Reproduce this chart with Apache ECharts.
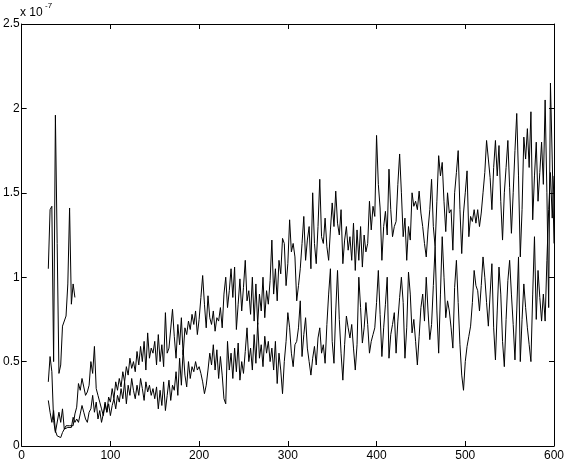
<!DOCTYPE html>
<html>
<head>
<meta charset="utf-8">
<script src="https://cdn.jsdelivr.net/npm/echarts@6/dist/echarts.min.js"></script>
<style>
  html, body { margin: 0; padding: 0; background: #fff; }
</style>
</head>
<body>
<div id="main" style="width: 569px; height: 463px"></div>
<script>
// values are in units of 1e-7 (see "x 10^-7" above the axis)
const xTicks = [0, 100, 200, 300, 400, 500, 600];
const yTicks = [0, 0.5, 1, 1.5, 2, 2.5];

// short curve: x = 30, 32, ... 60
const shortStart = 30;
const shortStep = 2;
const shortValues = [1.05, 1.40, 1.42, 0.50, 1.96, 1.20, 0.43, 0.48, 0.71, 0.71, 0.77, 0.96, 1.41, 0.84, 0.96, 0.88];

// two long curves: x = 30, 32, ... 600
const longStart = 30;
const longStep = 2;
const upperValues = [
  0.38, 0.53, 0.44, 0.15, 0.08, 0.09, 0.20, 0.14, 0.22, 0.10, 0.12, 0.11, 0.12, 0.13, 0.12, 0.19, 0.23, 0.37, 0.33, 0.40,
  0.39, 0.30, 0.32, 0.36, 0.50, 0.43, 0.59, 0.34, 0.30, 0.26, 0.22, 0.18, 0.25, 0.20, 0.29, 0.26, 0.34, 0.28, 0.38, 0.33,
  0.40, 0.35, 0.44, 0.38, 0.47, 0.42, 0.52, 0.46, 0.50, 0.44, 0.56, 0.48, 0.59, 0.50, 0.62, 0.45, 0.67, 0.52, 0.58, 0.55,
  0.62, 0.48, 0.66, 0.50, 0.60, 0.47, 0.79, 0.55, 0.58, 0.57, 0.81, 0.65, 0.52, 0.72, 0.60, 0.76, 0.54, 0.70, 0.66, 0.74,
  0.69, 0.78, 0.72, 0.80, 0.66, 0.75, 0.88, 1.01, 0.84, 0.70, 0.89, 0.76, 0.72, 0.80, 0.68, 0.76, 0.74, 0.82, 0.70, 0.90,
  1.00, 0.82, 0.92, 1.05, 0.88, 1.06, 0.69, 0.84, 0.99, 0.80, 0.94, 1.10, 0.86, 0.92, 0.78, 1.00, 0.74, 0.96, 0.72, 0.90,
  0.80, 1.00, 0.76, 0.92, 0.84, 0.98, 1.22, 0.90, 1.05, 0.86, 1.10, 1.02, 1.23, 1.20, 0.95, 1.08, 1.34, 1.15, 1.20, 1.12,
  0.86, 0.95, 1.05, 1.20, 1.36, 1.10, 1.22, 1.30, 1.05, 1.50, 1.20, 1.08, 1.30, 1.58, 1.24, 1.20, 1.35, 1.18, 1.10, 1.28,
  1.44, 1.30, 1.51, 1.32, 1.25, 1.40, 1.08, 1.22, 1.30, 1.16, 1.24, 1.10, 1.32, 1.04, 1.28, 1.10, 1.30, 1.06, 1.25, 1.15,
  1.20, 1.45, 1.28, 1.42, 1.36, 1.84, 1.55, 1.41, 1.10, 1.30, 1.39, 1.25, 1.64, 1.40, 1.24, 1.30, 1.33, 1.55, 1.73, 1.50,
  1.24, 1.35, 1.10, 1.30, 1.22, 1.50, 1.42, 1.45, 1.40, 1.51, 1.38, 1.30, 1.20, 1.12, 1.28, 1.40, 1.58, 1.30, 1.18, 1.45,
  1.72, 1.60, 1.68, 1.45, 1.27, 1.50, 1.38, 1.40, 1.16, 1.50, 1.62, 1.75, 1.40, 1.14, 1.38, 1.50, 1.63, 1.24, 1.36, 1.33,
  1.40, 1.32, 1.40, 1.30, 1.38, 1.50, 1.62, 1.81, 1.70, 1.59, 1.40, 1.65, 1.81, 1.60, 1.78, 1.45, 1.22, 1.50, 1.65, 1.81,
  1.53, 1.26, 1.50, 1.75, 1.97, 1.60, 1.12, 1.40, 1.83, 1.70, 1.88, 1.65, 1.98, 1.34, 1.60, 1.80, 1.45, 1.62, 1.80, 1.55,
  2.05, 1.50, 0.82, 2.15, 1.70, 1.20
];
const lowerValues = [
  0.27, 0.20, 0.14, 0.21, 0.09, 0.06, 0.06, 0.05, 0.08, 0.10, 0.10, 0.11, 0.10, 0.11, 0.17, 0.14, 0.16, 0.14, 0.19, 0.24,
  0.20, 0.16, 0.14, 0.20, 0.22, 0.30, 0.20, 0.26, 0.16, 0.21, 0.14, 0.19, 0.26, 0.20, 0.25, 0.18, 0.24, 0.28, 0.22, 0.30,
  0.26, 0.34, 0.28, 0.38, 0.25, 0.36, 0.30, 0.40, 0.33, 0.28, 0.36, 0.30, 0.40, 0.34, 0.27, 0.38, 0.32, 0.36, 0.30, 0.34,
  0.28, 0.35, 0.22, 0.33, 0.24, 0.38, 0.21, 0.30, 0.39, 0.27, 0.36, 0.33, 0.44, 0.30, 0.52, 0.36, 0.57, 0.42, 0.35, 0.50,
  0.40, 0.47, 0.44, 0.50, 0.45, 0.47, 0.43, 0.38, 0.31, 0.36, 0.45, 0.55, 0.48, 0.60, 0.45, 0.57, 0.40, 0.53, 0.42, 0.28,
  0.25, 0.62, 0.45, 0.55, 0.40, 0.58, 0.44, 0.61, 0.39, 0.50, 0.43, 0.56, 0.70, 0.50, 0.58, 0.45, 0.66, 0.49, 0.73, 0.52,
  0.60, 0.47, 0.65, 0.55, 0.62, 0.50, 0.58, 0.45, 0.62, 0.37, 0.55, 0.45, 0.31, 0.50, 0.62, 0.79, 0.70, 0.55, 0.47, 0.60,
  0.62, 0.70, 0.86, 0.53, 0.66, 0.76, 0.58, 0.50, 0.42, 0.52, 0.59, 0.48, 0.64, 0.70, 0.55, 0.60, 0.49, 0.72, 0.90, 1.05,
  0.62, 0.49, 0.80, 1.04, 0.75, 0.55, 0.39, 0.60, 0.77, 0.70, 0.64, 0.72, 0.58, 0.45, 0.60, 1.00, 0.82, 0.61, 0.70, 0.85,
  0.72, 0.55, 0.62, 0.66, 0.70, 0.85, 1.04, 0.78, 0.53, 0.70, 0.84, 1.00, 0.52, 0.66, 0.72, 0.79, 0.55, 0.74, 0.88, 1.00,
  0.85, 0.52, 0.70, 1.03, 0.90, 0.67, 0.75, 0.62, 0.48, 0.65, 0.82, 0.90, 0.74, 1.00, 0.80, 0.63, 0.72, 0.95, 1.18, 0.80,
  0.55, 0.90, 1.24, 1.00, 0.76, 0.86, 0.80, 0.70, 0.58, 0.94, 1.10, 0.85, 0.60, 0.42, 0.33, 0.50, 0.59, 0.65, 0.71, 0.85,
  1.04, 0.95, 0.92, 0.80, 0.95, 1.12, 1.00, 0.85, 0.71, 0.90, 1.08, 0.70, 0.51, 0.80, 1.06, 0.90, 0.62, 0.47, 0.75, 0.98,
  1.10, 0.90, 0.72, 0.51, 0.80, 1.12, 0.50, 0.75, 0.96, 0.82, 0.70, 0.60, 0.50, 0.90, 1.24, 0.75, 1.04, 0.88, 0.74, 0.90,
  0.74, 1.10, 1.40, 1.62, 1.35, 1.60
];

function toPairs(start, step, values) {
  return values.map((v, i) => [start + i * step, v]);
}

const font = 'Liberation Sans, Arial, Helvetica, sans-serif';
const myChart = echarts.init(document.getElementById('main'));

const boxAxis = {
  min: 0,
  axisLine: { show: true, onZero: false, lineStyle: { color: '#000', width: 1 } },
  axisTick: { show: true, inside: true, length: 5, lineStyle: { color: '#000' } },
  splitLine: { show: false }
};

const option = {
  backgroundColor: '#fff',
  animation: false,
  grid: { left: 20, top: 24, width: 534, height: 422 },
  xAxis: [
    Object.assign({}, boxAxis, {
      type: 'value', max: 600, interval: 100, position: 'bottom',
      axisLabel: { color: '#000', fontSize: 12, fontFamily: font, margin: 4 }
    }),
    Object.assign({}, boxAxis, {
      type: 'value', max: 600, interval: 100, position: 'top',
      axisLabel: { show: false }
    })
  ],
  yAxis: [
    Object.assign({}, boxAxis, {
      type: 'value', max: 2.5, interval: 0.5, position: 'left',
      axisLabel: { color: '#000', fontSize: 12, fontFamily: font, margin: 2 }
    }),
    Object.assign({}, boxAxis, {
      type: 'value', max: 2.5, interval: 0.5, position: 'right',
      axisLabel: { show: false }
    })
  ],
  graphic: [
    { type: 'text', left: 20, top: 7, style: { text: 'x 10', fontSize: 12, fontFamily: font, fill: '#000' } },
    { type: 'text', left: 45, top: 2, style: { text: '-7', fontSize: 8, fontFamily: font, fill: '#000' } }
  ],
  series: [
    {
      type: 'line', xAxisIndex: 0, yAxisIndex: 0, showSymbol: false,
      lineStyle: { color: '#000', width: 1 },
      data: toPairs(shortStart, shortStep, shortValues)
    },
    {
      type: 'line', xAxisIndex: 0, yAxisIndex: 0, showSymbol: false,
      lineStyle: { color: '#000', width: 1 },
      data: toPairs(longStart, longStep, upperValues)
    },
    {
      type: 'line', xAxisIndex: 0, yAxisIndex: 0, showSymbol: false,
      lineStyle: { color: '#000', width: 1 },
      data: toPairs(longStart, longStep, lowerValues)
    }
  ]
};

myChart.setOption(option);
</script>
</body>
</html>
